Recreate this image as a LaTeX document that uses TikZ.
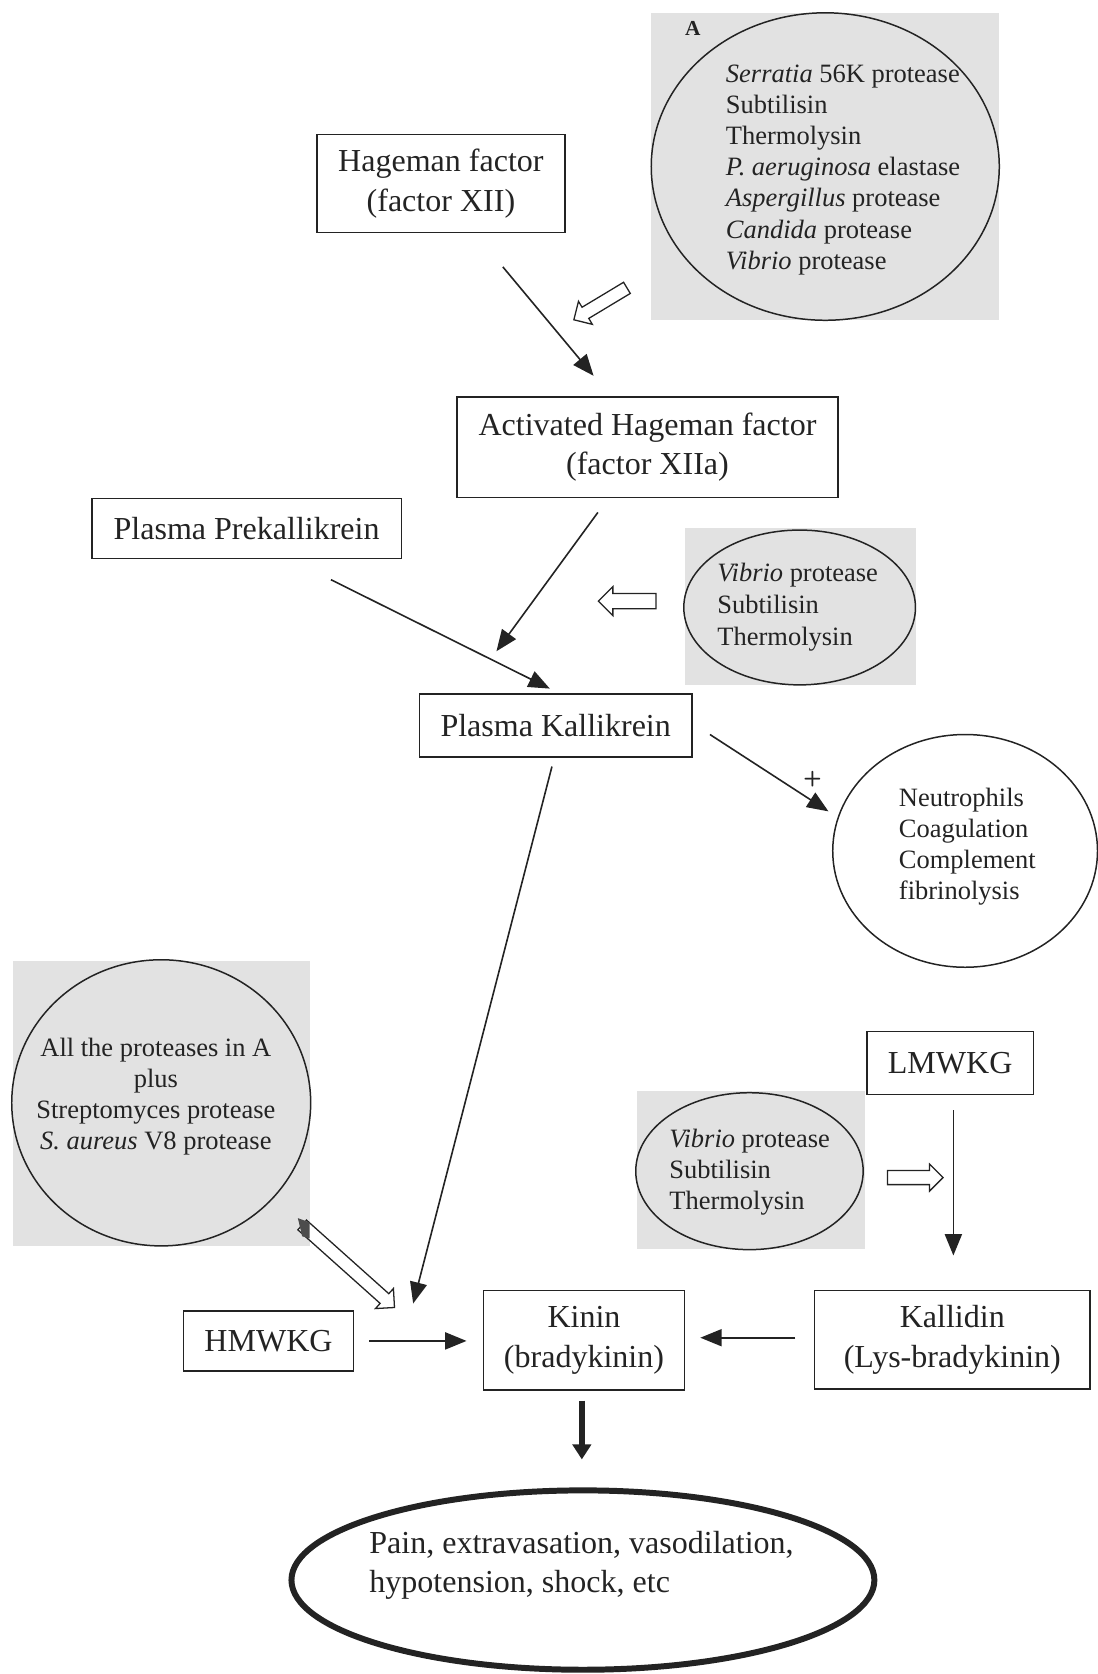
\documentclass[tikz,border=0pt]{standalone}
\usepackage{fontspec}
\setmainfont{Liberation Serif}
\usetikzlibrary{arrows.meta,shapes.geometric,shapes.arrows}
\definecolor{shade}{RGB}{226,226,226}
\definecolor{ink}{RGB}{35,35,35}
\begin{document}
\begin{tikzpicture}[x=0.5pt,y=-0.5pt,
  every node/.style={inner sep=0pt, outer sep=0pt, text=ink},
  box/.style n args={2}{draw=ink, line width=0.7pt, rectangle, minimum width=#1*0.5pt, minimum height=#2*0.5pt, align=center, font=\fontsize{15}{18.5}\selectfont},
  oval/.style n args={2}{draw=ink, line width=0.7pt, ellipse, minimum width=#1*0.5pt, minimum height=#2*0.5pt},
  lst/.style={align=left, font=\fontsize{12.4}{14.6}\selectfont},
  conn/.style={draw=ink, line width=0.75pt, -{Triangle[length=10pt,width=8pt]}},
  hollow/.style n args={3}{draw=ink, line width=0.6pt, fill=white, single arrow, minimum height=#1*0.5pt, minimum width=0pt, inner xsep=0pt, inner ysep={#3*0.25pt}, single arrow head extend={(#2-#3)*0.25pt}},
  panel/.style={fill=shade, draw=none}
]
\useasboundingbox (0,0) rectangle (1028,1568);

% shaded panels
\fill[panel] (610,12) rectangle (936,300);
\fill[panel] (642,495) rectangle (858,642);
\fill[panel] (12,900) rectangle (290,1167);
\fill[panel] (597,1022) rectangle (810,1170);

% ellipses
\node[oval={326}{288}] (ovA) at (773,156) {};
\node[font=\bfseries\fontsize{10}{12}\selectfont] (labA) at (649,27) {A};
\node[lst, anchor=west] (txA) at (680,159) {\textit{Serratia} 56K protease\\Subtilisin\\Thermolysin\\\textit{P. aeruginosa} elastase\\\textit{Aspergillus} protease\\\textit{Candida} protease\\\textit{Vibrio} protease};

\node[oval={217}{145}] (ovV1) at (749,569) {};
\node[lst, anchor=west, font=\fontsize{12.4}{15}\selectfont] (txV1) at (672,569) {\textit{Vibrio} protease\\Subtilisin\\Thermolysin};

\node[oval={248}{218}] (ovN) at (904,797) {};
\node[lst, anchor=west] (txN) at (842,793) {Neutrophils\\Coagulation\\Complement\\fibrinolysis};

\node[oval={280}{268}] (ovAll) at (151,1033) {};
\node[lst, align=center] (txAll) at (146,1027) {All the proteases in A\\plus\\Streptomyces protease\\\textit{S. aureus} V8 protease};

\node[oval={213}{147}] (ovV2) at (702,1097) {};
\node[lst, anchor=west] (txV2) at (627,1098) {\textit{Vibrio} protease\\Subtilisin\\Thermolysin};

\node[draw=ink, line width=2.8pt, ellipse, minimum width=546*0.5pt, minimum height=168*0.5pt] (ovPain) at (546,1480) {};
\node[align=left, anchor=west, font=\fontsize{15}{18.5}\selectfont] (txPain) at (346,1466) {Pain, extravasation, vasodilation,\\hypotension, shock, etc};

% boxes
\node[box={232}{92}] (hag) at (413,172) {Hageman factor\\(factor XII)};
\node[box={357}{94}] (act) at (606.5,419) {Activated Hageman factor\\(factor XIIa)};
\node[box={290}{56}] (prek) at (231,495) {Plasma Prekallikrein};
\node[box={255}{59}] (kall) at (520.5,679.5) {Plasma Kallikrein};
\node[box={159}{56}] (hmw) at (251.5,1256) {HMWKG};
\node[box={188}{93}] (kin) at (547,1255.5) {Kinin\\(bradykinin)};
\node[box={258}{92}] (kald) at (892,1255) {Kallidin\\(Lys-bradykinin)};
\node[box={156}{59}] (lmw) at (890,995.5) {LMWKG};

% connector end points
\coordinate (c1a) at (471,250);  \coordinate (c1b) at (556,352);
\coordinate (c2a) at (560,480);  \coordinate (c2b) at (465,610);
\coordinate (c3a) at (310,543);  \coordinate (c3b) at (515,645);
\coordinate (c4a) at (665,688);  \coordinate (c4b) at (776,760);
\coordinate (c5a) at (517,718);  \coordinate (c5b) at (387,1221);
\coordinate (c6a) at (346,1256); \coordinate (c6b) at (437,1256);
\coordinate (c7a) at (745,1253); \coordinate (c7b) at (656,1253);
\coordinate (c8a) at (893,1040); \coordinate (c8b) at (893,1176);
\coordinate (c9a) at (545,1312); \coordinate (c9b) at (545,1367);

\draw[conn] (c1a) -- (c1b);
\draw[conn] (c2a) -- (c2b);
\draw[conn] (c3a) -- (c3b);
\draw[conn] (c4a) -- (c4b);
\node[font=\sffamily\bfseries\fontsize{10}{11}\selectfont] (plus) at (761,730) {+};
\draw[conn] (c5a) -- (c5b);
\draw[conn] (c6a) -- (c6b);
\draw[conn] (c7a) -- (c7b);
\draw[conn] (c8a) -- (c8b);
\draw[draw=ink, line width=3pt, -{Triangle[length=7pt,width=8.5pt]}] (c9a) -- (c9b);

% hollow block arrows
\node[hollow={58}{24}{11}, rotate=211] (h1) at (565,283) {};
\node[hollow={54}{26}{13}, rotate=180] (h2) at (591,563) {};
\node[hollow={52}{24}{12}, rotate=0] (h3) at (854,1103) {};
\node[hollow={116}{24}{11}, rotate=-41.8] (h4) at (324,1184) {};
\fill[gray!60!black] (279,1141) -- (290,1145) -- (290,1160) -- (283,1158) -- cycle;
\end{tikzpicture}
\end{document}
